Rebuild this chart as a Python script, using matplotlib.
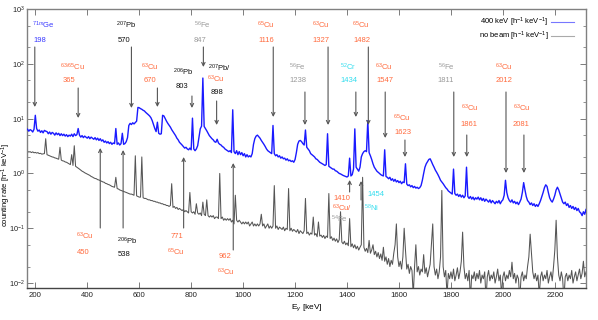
import numpy as np
import matplotlib
matplotlib.use("Agg")
import matplotlib.pyplot as plt
from matplotlib.lines import Line2D

plt.rcParams['font.family'] = ['Liberation Sans', 'DejaVu Sans']
plt.rcParams['mathtext.fontset'] = 'custom'
plt.rcParams['mathtext.rm'] = 'Liberation Sans'
plt.rcParams['mathtext.it'] = 'Liberation Sans:italic'
plt.rcParams['mathtext.sf'] = 'Liberation Sans'

# ---------------- data ----------------
# energy grid of the spectra (keV), 5 keV bins from 170 to 2320
energy_start, energy_stop, energy_step = 170, 2320, 5

beam_400keV = [
    6.4, 5.9, 6.3, 6.1, 5.7, 6.4,
    11.5, 6.6, 5.9, 6.2, 5.6, 6.0, 5.5, 6.1, 5.9, 5.8, 5.3, 5.7, 5.2, 5.6, 5.4, 5.0, 5.5, 5.1, 5.4, 4.9,
    5.3, 4.9, 5.2, 4.8, 5.1, 4.7, 5.0, 4.8, 5.2, 4.7, 5.3, 4.9, 5.1, 6.6, 5.0, 4.6, 4.9, 4.5, 4.8, 4.6,
    4.4, 4.7, 4.3, 4.6, 4.4, 4.2, 4.5, 4.1, 4.4, 4.0, 4.3, 3.9, 4.1, 3.7, 3.9, 3.6, 3.8, 3.5, 3.7, 3.4,
    3.6, 3.5, 6.6, 3.4, 3.6, 3.3, 3.5, 5.4, 3.4, 3.5, 3.8, 4.5, 7.5, 8.2, 7.8, 8.4, 8.0, 8.5, 9.0, 16.0,
    15.8, 15.2, 14.8, 14.2, 13.8, 13.0, 12.4, 11.8, 11.2, 10.4, 9.2, 7.8, 6.6, 5.8, 8.6, 5.4, 5.2, 5.3, 11.5, 11.2,
    10.0, 9.0, 8.2, 7.6, 7.0, 6.3, 5.8, 5.3, 4.9, 4.4, 4.1, 3.7, 3.5, 3.3, 3.1, 2.9, 3.0, 2.8, 2.7, 2.9,
    2.7, 10.2, 2.8, 2.6, 2.8, 3.2, 4.5, 6.5, 7.3, 55.0, 7.2, 6.6, 6.0, 5.4, 4.9, 4.6, 4.3, 4.1, 3.8, 3.7,
    4.2, 3.6, 3.4, 3.3, 3.1, 3.0, 2.8, 2.7, 2.6, 2.5, 2.6, 2.4, 14.5, 2.5, 2.3, 2.6, 2.2, 2.5, 2.2, 2.4,
    2.1, 2.3, 2.0, 2.2, 2.0, 2.1, 2.0, 2.3, 3.4, 4.3, 4.8, 5.0, 4.7, 4.4, 4.0, 3.7, 3.4, 3.1, 2.8, 2.6,
    2.5, 2.4, 2.3, 7.5, 2.3, 2.1, 2.2, 2.0, 2.1, 1.9, 2.0, 1.85, 1.9, 1.75, 1.85, 1.7, 1.75, 1.65, 1.7, 1.6,
    1.8, 2.4, 3.4, 3.9, 4.0, 3.8, 3.5, 3.3, 6.2, 3.0, 2.8, 2.6, 2.3, 2.2, 2.1, 2.0, 1.85, 1.8, 1.7, 1.6,
    1.55, 1.5, 1.45, 1.4, 1.45, 5.3, 1.35, 1.3, 1.25, 1.2, 1.2, 1.12, 1.1, 1.05, 1.0, 0.98, 0.95, 0.92, 0.9, 0.88,
    0.86, 0.9, 1.9, 0.9, 0.95, 1.2, 6.5, 1.3, 1.2, 1.1, 1.3, 2.0, 2.3, 2.5, 2.6, 2.5, 9.2, 2.4, 2.1, 1.8,
    1.5, 1.3, 1.2, 1.1, 1.05, 1.0, 0.95, 0.92, 0.9, 2.7, 0.88, 0.85, 0.8, 0.85, 0.75, 0.8, 0.72, 0.78, 0.7, 0.74,
    0.68, 0.72, 0.65, 0.7, 0.68, 1.5, 0.64, 0.6, 0.62, 0.57, 0.6, 0.55, 0.58, 0.54, 0.56, 0.53, 0.55, 0.6, 0.75, 1.0,
    1.3, 1.5, 1.65, 1.8, 1.85, 1.65, 1.45, 1.3, 1.15, 1.05, 0.95, 0.85, 0.75, 0.7, 0.65, 0.6, 0.55, 0.52, 0.48, 0.46,
    0.44, 0.42, 1.2, 0.43, 0.4, 0.42, 0.38, 0.41, 0.37, 0.4, 0.36, 0.39, 1.3, 0.38, 0.35, 0.38, 0.34, 0.37, 0.33, 0.36,
    0.34, 0.37, 0.33, 0.36, 0.32, 0.35, 0.31, 0.34, 0.32, 0.3, 0.33, 0.29, 0.32, 0.3, 0.28, 0.31, 0.29, 0.32, 0.28, 0.31,
    0.33, 0.4, 0.75, 0.45, 0.36, 0.32, 0.3, 0.33, 0.29, 0.31, 0.28, 0.3, 0.27, 0.3, 0.34, 0.45, 0.68, 0.5, 0.38, 0.32,
    0.3, 0.27, 0.29, 0.26, 0.28, 0.25, 0.27, 0.25, 0.28, 0.32, 0.38, 0.45, 0.55, 0.62, 0.58, 0.45, 0.36, 0.32, 0.3, 0.34,
    0.4, 0.5, 0.56, 0.5, 0.42, 0.35, 0.3, 0.28, 0.3, 0.26, 0.28, 0.24, 0.26, 0.23, 0.25, 0.22, 0.24, 0.21, 0.23, 0.2,
    0.19, 0.17, 0.2, 0.18, 0.22,
]

no_beam = [
    2.55, 2.45, 2.5, 2.4, 2.48, 2.38,
    2.42, 2.35, 2.4, 2.3, 2.33, 2.25, 2.28, 2.3, 4.3, 2.2, 2.15, 2.1, 2.05, 2.0, 1.98, 1.92, 1.9, 1.85, 1.82, 3.0,
    1.75, 1.7, 1.68, 1.62, 1.6, 1.55, 1.5, 1.45, 2.2, 1.4, 3.2, 1.35, 1.3, 1.25, 1.2, 1.15, 1.1, 1.07, 1.03, 1.0,
    0.97, 0.94, 0.92, 0.88, 0.86, 0.83, 0.81, 0.8, 0.77, 0.76, 0.74, 0.72, 0.7, 0.69, 0.66, 0.65, 0.63, 0.62, 0.6, 0.58,
    0.57, 0.56, 0.85, 0.53, 0.52, 0.5, 0.49, 0.48, 0.47, 0.46, 0.45, 0.44, 0.43, 0.42, 0.42, 0.41, 0.4, 2.1, 0.39, 0.38,
    0.37, 0.37, 2.0, 0.36, 0.35, 0.35, 0.34, 0.33, 0.33, 0.32, 0.32, 0.31, 0.31, 0.3, 0.3, 0.29, 0.29, 0.28, 0.28, 0.27,
    0.27, 0.26, 0.26, 0.25, 0.26, 0.65, 0.24, 0.25, 0.23, 0.24, 0.22, 0.23, 0.22, 0.21, 0.22, 0.2, 0.21, 0.2, 0.19, 0.45,
    0.2, 0.19, 0.2, 0.18, 0.28, 0.19, 0.18, 0.19, 0.17, 0.3, 0.18, 0.17, 0.33, 0.17, 0.16, 0.17, 0.16, 0.17, 0.15, 0.16,
    0.16, 0.15, 1.0, 0.15, 0.16, 0.14, 0.15, 0.14, 0.15, 0.14, 0.15, 0.13, 0.14, 0.12, 0.4, 0.14, 0.13, 0.14, 0.13, 0.12,
    0.13, 0.12, 0.13, 0.12, 0.13, 0.11, 0.12, 0.13, 0.11, 0.12, 0.11, 0.12, 0.11, 0.12, 0.18, 0.11, 0.12, 0.1, 0.11, 0.12,
    0.1, 0.11, 0.1, 0.11, 0.6, 0.1, 0.11, 0.095, 0.105, 0.1, 0.095, 0.105, 0.09, 0.1, 0.095, 0.53, 0.09, 0.1, 0.088, 0.095,
    0.09, 0.085, 0.095, 0.08, 0.09, 0.085, 0.08, 0.09, 0.35, 0.08, 0.085, 0.075, 0.082, 0.078, 0.16, 0.075, 0.08, 0.07, 0.13, 0.072,
    0.075, 0.068, 0.074, 0.065, 0.072, 0.068, 0.43, 0.065, 0.07, 0.06, 0.066, 0.058, 0.064, 0.055, 0.062, 0.2, 0.056, 0.052, 0.058, 0.05,
    0.054, 0.048, 0.15, 0.046, 0.052, 0.044, 0.05, 0.042, 0.047, 0.04, 0.045, 0.05, 0.85, 0.045, 0.038, 0.043, 0.036, 0.06, 0.035, 0.04,
    0.05, 0.033, 0.038, 0.03, 0.036, 0.028, 0.034, 0.026, 0.045, 0.025, 0.03, 0.022, 0.028, 0.02, 0.026, 0.022, 0.035, 0.05, 0.12, 0.03,
    0.02, 0.025, 0.018, 0.03, 0.1, 0.04, 0.018, 0.022, 0.015, 0.02, 0.017, 0.006, 0.02, 0.05, 0.016, 0.02, 0.014, 0.018, 0.016, 0.033,
    0.015, 0.019, 0.013, 0.017, 0.022, 0.05, 0.12, 0.02, 0.014, 0.018, 0.012, 0.016, 0.03, 0.49, 0.02, 0.013, 0.017, 0.006, 0.015, 0.012,
    0.016, 0.012, 0.018, 0.011, 0.014, 0.019, 0.012, 0.016, 0.025, 0.085, 0.02, 0.012, 0.015, 0.011, 0.017, 0.005, 0.014, 0.012, 0.016, 0.011,
    0.015, 0.012, 0.017, 0.01, 0.014, 0.012, 0.016, 0.005, 0.013, 0.017, 0.011, 0.014, 0.012, 0.016, 0.01, 0.013, 0.018, 0.011, 0.014, 0.006,
    0.013, 0.016, 0.011, 0.014, 0.012, 0.017, 0.013, 0.024, 0.012, 0.015, 0.01, 0.014, 0.012, 0.005, 0.013, 0.016, 0.011, 0.014, 0.012, 0.02,
    0.03, 0.078, 0.035, 0.016, 0.012, 0.015, 0.011, 0.014, 0.006, 0.013, 0.016, 0.011, 0.014, 0.012, 0.017, 0.01, 0.013, 0.016, 0.011, 0.02,
    0.04, 0.14, 0.03, 0.014, 0.011, 0.016, 0.012, 0.005, 0.013, 0.015, 0.011, 0.014, 0.012, 0.017, 0.01, 0.013, 0.016, 0.011, 0.014, 0.018,
    0.012, 0.015, 0.025, 0.013, 0.016,
]

# peak annotations: energy (keV), isotope label, colour group
top_energies = [198, 365, 570, 670, 803, 847, 898, 1116, 1238, 1327, 1434, 1482, 1547, 1623, 1811, 1861, 2012, 2081]
top_isotopes = [r'$^{71m}$Ge', r'$^{63/65}$Cu', r'$^{207}$Pb', r'$^{63}$Cu', r'$^{206}$Pb', r'$^{56}$Fe',
                r'$^{207}$Pb/', r'$^{65}$Cu', r'$^{56}$Fe', r'$^{63}$Cu', r'$^{52}$Cr', r'$^{65}$Cu',
                r'$^{63}$Cu', r'$^{65}$Cu', r'$^{56}$Fe', r'$^{63}$Cu', r'$^{63}$Cu', r'$^{63}$Cu']
top_groups = ['Ge', 'Cu', 'Pb', 'Cu', 'Pb', 'Fe', 'Pb', 'Cu', 'Fe', 'Cu', 'Cr', 'Cu', 'Cu', 'Cu', 'Fe', 'Cu', 'Cu', 'Cu']

bottom_energies = [450, 538, 771, 962, 1410, 1454]
bottom_isotopes = [r'$^{63}$Cu', r'$^{206}$Pb', r'$^{65}$Cu', r'$^{63}$Cu', r'$^{63}$Cu/', r'$^{58}$Ni']
bottom_groups = ['Cu', 'Pb', 'Cu', 'Cu', 'Cu', 'Ni']

x_ticks = [200, 400, 600, 800, 1000, 1200, 1400, 1600, 1800, 2000, 2200]

# ---------------- styles / layout ----------------
group_colors = {'Ge': '#3a3aff', 'Cu': '#ff6a3d', 'Pb': '#111111', 'Fe': '#9a9a9a',
                'Cr': '#33ddee', 'Ni': '#33ddee'}
ARROW_COLOR = '#555555'

W, H = 598, 320
AX_L, AX_R, AX_T, AX_B = 27, 586, 9, 288

fig = plt.figure(figsize=(W / 100, H / 100), dpi=100)
ax = fig.add_axes([AX_L / W, 1 - AX_B / H, (AX_R - AX_L) / W, (AX_B - AX_T) / H])

energy = np.arange(energy_start, energy_stop + 1, energy_step)
ax.plot(energy, no_beam, color='#555555', lw=0.75, zorder=2)
ax.plot(energy, beam_400keV, color='#1a1aff', lw=1.0, zorder=3)

ax.set_yscale('log')
ax.set_xlim(168, 2320)
ax.set_ylim(10 ** (-2.09), 10 ** 3)
ax.set_xticks(x_ticks)
ax.set_xticklabels([str(t) for t in x_ticks])
ax.yaxis.set_major_locator(matplotlib.ticker.LogLocator(base=10, numticks=10))
ax.yaxis.set_minor_locator(matplotlib.ticker.LogLocator(base=10, subs=(2, 5), numticks=10))
ax.yaxis.set_minor_formatter(matplotlib.ticker.NullFormatter())
ax.tick_params(which='both', direction='in', top=True, right=True, labelsize=5.6, colors='#222222',
               pad=3)
ax.tick_params(axis='y', which='major', labelsize=5.3, pad=1.5)
ax.tick_params(which='major', length=4, width=0.6, color='#666666')
ax.tick_params(which='minor', length=2, width=0.5, color='#666666')
for side, sp in ax.spines.items():
    sp.set_color('#808080')
    sp.set_linewidth(1.0)
ax.spines['bottom'].set_color('#444444')

ax.set_xlabel(r'E$_{\gamma}$ [keV]', fontsize=6, labelpad=2)
fig.text(6 / W, 1 - 185 / H, r'counting rate [h$^{-1}$ keV$^{-1}$]', rotation=90,
         fontsize=5.5, ha='center', va='center')

FS = 5.5
xform = ax.get_xaxis_transform()


def fy(ypix):
    return (AX_B - ypix) / (AX_B - AX_T)


def ex(xpix):
    # text centre (pixel) -> keV on the x axis
    return 200 + (xpix - 35) / 0.2587


# top labels: (iso x, iso y, number x, number y, arrow start y, arrow end y)
top_layout = [
    (43, 25, 40, 40, 47, 107), (72, 67, 69, 81, 88, 118), (125, 25, 123, 40, 47, 108),
    (149, 67, 149, 81, 88, 107), (182, 72, 181, 87, 96, 108), (201, 25, 199, 40, 47, 67),
    (218, 68, 216, 92, 101, 125), (264, 25, 265, 40, 47, 117), (296, 67, 297, 81, 92, 125),
    (319, 25, 319, 40, 47, 125), (346, 67, 347, 81, 92, 117), (359, 25, 360, 40, 47, 125),
    (382, 67, 383, 81, 92, 138), (400, 118, 401, 133, 140, 157), (444, 67, 444, 81, 92, 157),
    (468, 108, 467, 124, 135, 157), (502, 67, 502, 81, 92, 173), (519, 108, 519, 124, 135, 173),
]
for e, iso, g, (ix, iy, nx, ny, a0, a1) in zip(top_energies, top_isotopes, top_groups, top_layout):
    c = group_colors[g]
    ax.text(ex(ix), fy(iy), iso, transform=xform, color=c, fontsize=FS, ha='center', va='center')
    ax.text(ex(nx), fy(ny), str(e), transform=xform, color=c, fontsize=FS, ha='center', va='center')
    ax.annotate('', xy=(e, fy(a1)), xytext=(e, fy(a0)), xycoords=xform, textcoords=xform,
                arrowprops=dict(arrowstyle='->', color=ARROW_COLOR, lw=0.8, mutation_scale=6,
                                shrinkA=0, shrinkB=0))
# second line of the 898 label
ax.text(ex(215), fy(79), r'$^{63}$Cu', transform=xform, color=group_colors['Cu'], fontsize=FS,
        ha='center', va='center')

# bottom labels: (iso x, iso y, number x, number y, arrow start y, arrow end y)
bottom_layout = [
    (84, 236, 83, 252, 228, 148), (126, 241, 123, 255, 228, 150), (175, 252, 176, 236, 228, 157),
    (225, 272, 224, 257, 250, 163), (340, 208, 340, 198, 192, 180), (370, 208, 374, 195, 200, 181),
]
for e, iso, g, (ix, iy, nx, ny, a0, a1) in zip(bottom_energies, bottom_isotopes, bottom_groups, bottom_layout):
    c = group_colors[g]
    ax.text(ex(ix), fy(iy), iso, transform=xform, color=c, fontsize=FS, ha='center', va='center')
    ax.text(ex(nx), fy(ny), str(e), transform=xform, color=c, fontsize=FS, ha='center', va='center')
    ax.annotate('', xy=(e, fy(a1)), xytext=(e, fy(a0)), xycoords=xform, textcoords=xform,
                arrowprops=dict(arrowstyle='->', color=ARROW_COLOR, lw=0.8, mutation_scale=6,
                                shrinkA=0, shrinkB=0))
ax.text(ex(338), fy(219), r'$^{54}$Fe', transform=xform, color=group_colors['Fe'], fontsize=FS,
        ha='center', va='center')

handles = [Line2D([], [], color='#7777ff', lw=0.8), Line2D([], [], color='#aaaaaa', lw=0.8)]
ax.legend(handles, [r'400 keV [h$^{-1}$ keV$^{-1}$]', r'no beam [h$^{-1}$ keV$^{-1}$]'],
          loc='upper right', bbox_to_anchor=(1 - 7 / (AX_R - AX_L), 1 - 2 / (AX_B - AX_T)),
          frameon=False, fontsize=FS, markerfirst=False, handlelength=3.0, handletextpad=0.4,
          labelspacing=0.1, borderaxespad=0.2)

fig.savefig('out.png', dpi=100)
